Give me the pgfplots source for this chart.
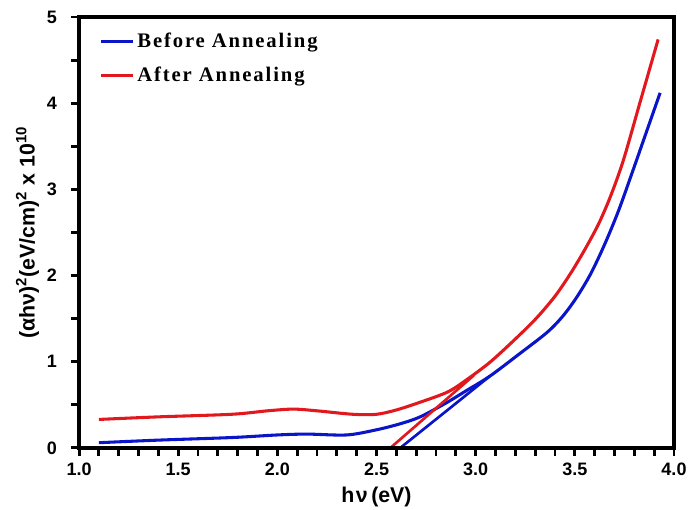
\documentclass[border=0pt]{standalone}
\usepackage{fontspec}
\setmainfont{Liberation Sans}
\newfontfamily\legfont[LetterSpace=9]{Liberation Serif}
\usepackage{pgfplots}
\pgfplotsset{compat=1.18}
\definecolor{bluecurve}{RGB}{10,20,200}
\definecolor{redcurve}{RGB}{225,25,30}

\begin{document}
\begin{tikzpicture}
\begin{axis}[
  name=ax,
  scale only axis,
  width=446pt, height=323pt,
  xmin=1, xmax=4, ymin=0, ymax=5,
  clip=false,
  axis line style={line width=3pt},
  xtick={1,1.5,...,4}, ytick={0,1,...,5},
  minor x tick num=4, minor y tick num=1,
  xtick pos=left, ytick pos=left,
  tick align=outside,
  major tick length=6pt, minor tick length=6pt,
  tick style={black, line width=2.2pt},
  minor tick style={black, line width=2.2pt},
  /pgf/number format/assume math mode=true,
  tick label style={font=\fontsize{13.5}{15}\selectfont\bfseries, black},
  yticklabel style={xshift=-7pt},
  xticklabel style={yshift=-2pt, /pgf/number format/.cd, fixed, fixed zerofill, precision=1},
  xlabel={h\kern1pt ν\,(eV)},
  ylabel={(αhν)\textsuperscript{2}(eV/cm)\textsuperscript{2} x 10\textsuperscript{10}},
  xlabel style={font=\fontsize{16}{18}\selectfont\bfseries, yshift=-1pt},
  ylabel style={font=\fontsize{16}{18}\selectfont\bfseries, yshift=-1pt},
  legend style={at={(0.03,0.975)}, anchor=north west, draw=none, fill=none,
                font=\legfont\fontsize{15.5}{17}\selectfont\bfseries,
                row sep=9pt, inner sep=2pt},
  legend cell align=left,
  legend image code/.code={\draw[#1, line width=2.2pt] (0pt,0pt) -- (24pt,0pt);},
]
  \addplot[bluecurve, line width=2.3pt, smooth, tension=0.5] coordinates {
    (1.10,0.06) (1.40,0.09) (1.77,0.12) (2.00,0.15) (2.15,0.16) (2.35,0.15)
    (2.50,0.21) (2.62,0.28) (2.72,0.36) (2.85,0.52) (2.95,0.66) (3.07,0.83)
    (3.22,1.09) (3.36,1.34) (3.44,1.53) (3.51,1.75) (3.58,2.02) (3.65,2.36)
    (3.72,2.75) (3.79,3.20) (3.86,3.66) (3.93,4.12)
  };
  \addlegendentry{Before Annealing}
  \addplot[redcurve, line width=2.3pt, smooth, tension=0.5] coordinates {
    (1.10,0.33) (1.40,0.36) (1.77,0.39) (1.95,0.43) (2.08,0.45) (2.20,0.43)
    (2.38,0.39) (2.50,0.39) (2.60,0.44) (2.72,0.53) (2.86,0.65) (2.96,0.80)
    (3.07,0.99) (3.18,1.22) (3.30,1.49) (3.40,1.76) (3.48,2.03) (3.55,2.30)
    (3.62,2.60) (3.68,2.92) (3.745,3.34) (3.83,4.02) (3.92,4.74)
  };
  \addlegendentry{After Annealing}
  % band-gap extrapolation lines
  \addplot[redcurve, line width=2pt, forget plot] coordinates {(2.57,0) (2.99,0.84)};
  \addplot[bluecurve, line width=2pt, forget plot] coordinates {(2.62,0) (3.07,0.83)};
  % heavy frame as in the original
  \draw[black, line width=3pt] (rel axis cs:0,0) rectangle (rel axis cs:1,1);
\end{axis}
\pgfresetboundingbox
\path ([xshift=-59.25pt,yshift=-46.5pt]ax.south west) rectangle ([xshift=13.5pt,yshift=12.75pt]ax.north east);
\end{tikzpicture}
\end{document}
